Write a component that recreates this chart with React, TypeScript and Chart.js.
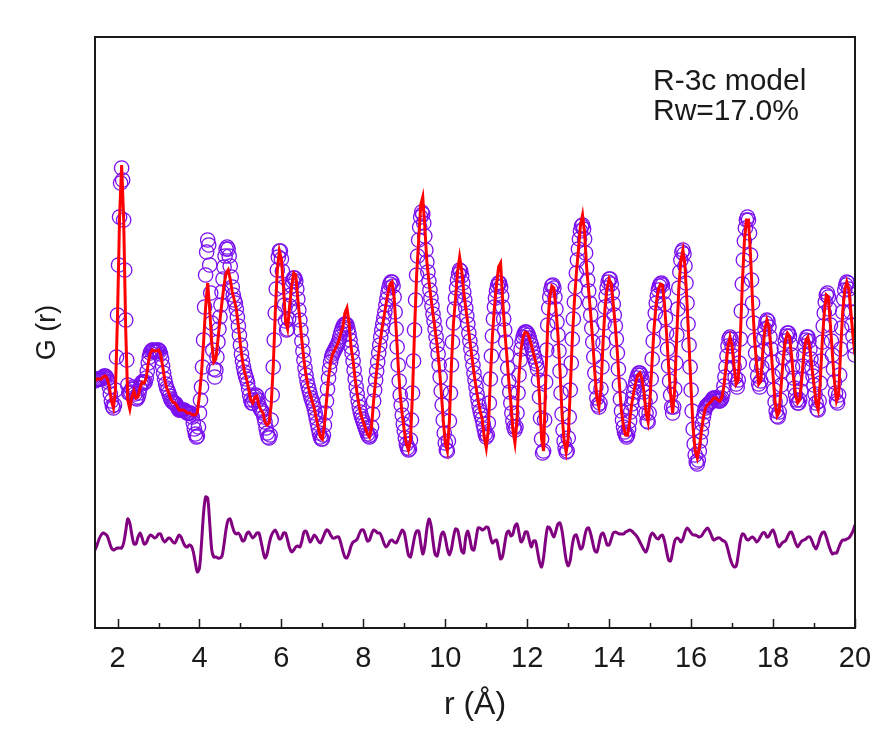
import React, { useEffect, useRef } from 'react';
import { Chart, registerables } from 'chart.js';

Chart.register(...registerables);

// r grid (Å)
const R_MIN = 1.45;
const R_MAX = 20;
const OBS_STEP = 0.025;
const FIT_STEP = 0.05;

// Observed G(r) (circles), r = 1.45 .. 20.00 step 0.025
const gObs = [
  0.4, 0.5, 0.6, 0.6, 0.6, 0.6, 0.6, 0.7, 0.8, 0.9, 0.9, 0.8, 0.6, 0.3, -0.2, -0.9, -1.6, -2.1, -2.3, -2.0,
  -0.5, 2.8, 7.0, 12.0, 16.8, 20.2, 21.7, 20.5, 16.5, 11.5, 6.5, 2.5, 0.0, -0.8, -0.8, -0.7, -0.4, -0.2, -0.4, -0.9,
  -1.3, -1.4, -1.2, -0.8, -0.3, 0.1, 0.3, 0.3, 0.2, 0.3, 0.7, 1.4, 2.2, 2.8, 3.2, 3.4, 3.5, 3.5, 3.4, 3.3,
  3.4, 3.5, 3.5, 3.4, 3.1, 2.6, 1.9, 1.2, 0.6, 0.1, -0.3, -0.5, -0.8, -1.1, -1.4, -1.6, -1.7, -1.8, -1.8, -1.9,
  -2.1, -2.3, -2.5, -2.5, -2.5, -2.5, -2.5, -2.5, -2.6, -2.7, -2.8, -2.8, -2.8, -2.8, -2.9, -3.2, -3.8, -4.4, -4.9, -5.2,
  -5.1, -4.2, -2.8, -1.5, -0.2, 1.8, 4.5, 7.8, 11.0, 13.3, 14.5, 14.0, 12.0, 9.2, 6.2, 3.5, 1.6, 0.8, 1.5, 2.8,
  4.3, 5.6, 6.8, 8.0, 9.3, 10.6, 11.8, 12.9, 13.6, 13.8, 13.6, 12.9, 11.9, 10.8, 9.8, 9.0, 8.5, 8.2, 7.6, 6.8,
  5.9, 5.0, 4.0, 3.1, 2.4, 1.8, 1.3, 0.9, 0.6, 0.2, -0.4, -1.0, -1.5, -1.8, -1.8, -1.5, -1.2, -1.0, -1.1, -1.5,
  -2.0, -2.3, -2.5, -2.6, -2.8, -3.2, -3.7, -4.3, -4.8, -5.2, -5.3, -5.0, -3.5, -1.0, 1.8, 4.5, 7.2, 9.6, 11.5, 12.8,
  13.4, 13.4, 12.6, 11.4, 9.8, 8.0, 6.4, 5.5, 5.6, 6.6, 7.9, 9.0, 9.9, 10.4, 10.7, 10.7, 10.4, 9.6, 8.6, 7.5,
  6.5, 5.5, 4.4, 3.4, 2.5, 1.7, 1.0, 0.4, -0.1, -0.5, -0.9, -1.3, -1.6, -1.9, -2.3, -2.8, -3.3, -3.8, -4.3, -4.8,
  -5.2, -5.4, -5.4, -5.0, -4.0, -2.8, -1.6, -0.4, 0.7, 1.6, 2.3, 2.8, 3.1, 3.3, 3.5, 3.7, 3.9, 4.1, 4.4, 4.8,
  5.2, 5.5, 5.8, 6.0, 6.1, 6.1, 6.0, 5.6, 5.1, 4.5, 3.8, 3.2, 2.4, 1.5, 0.6, -0.2, -0.9, -1.6, -2.2, -2.7,
  -3.1, -3.4, -3.7, -4.0, -4.3, -4.6, -4.9, -5.1, -5.2, -5.0, -4.2, -2.9, -1.6, -0.5, 0.5, 1.4, 2.3, 3.2, 4.0, 4.8,
  5.5, 6.1, 6.7, 7.3, 8.0, 8.6, 9.2, 9.7, 10.1, 10.3, 10.3, 9.9, 8.8, 7.3, 5.6, 3.8, 2.0, 0.4, -1.0, -2.0,
  -3.0, -3.9, -4.6, -5.3, -5.9, -6.3, -6.5, -6.4, -5.5, -3.5, -0.8, 2.4, 5.5, 8.5, 11.0, 12.9, 14.5, 15.8, 16.8, 17.3,
  17.1, 16.2, 14.9, 13.5, 12.3, 11.3, 10.4, 9.5, 8.7, 7.9, 7.1, 6.4, 5.6, 4.8, 4.0, 3.1, 2.0, 0.8, -0.6, -2.0,
  -3.5, -4.8, -5.8, -6.5, -6.6, -5.6, -3.6, -0.8, 2.0, 4.3, 6.2, 7.6, 8.7, 9.7, 10.5, 11.1, 11.5, 11.4, 10.9, 10.2,
  9.3, 8.5, 7.7, 6.9, 6.1, 5.2, 4.4, 3.6, 2.8, 2.0, 1.2, 0.5, -0.2, -0.9, -1.5, -2.1, -2.6, -3.0, -3.4, -3.9,
  -4.4, -4.9, -5.2, -5.0, -3.8, -1.8, 0.6, 2.9, 4.9, 6.6, 7.8, 8.7, 9.4, 9.9, 10.2, 10.2, 9.8, 8.9, 7.8, 6.6,
  5.5, 4.3, 3.0, 1.7, 0.4, -0.7, -1.8, -2.8, -3.6, -4.2, -4.5, -4.2, -2.8, -0.8, 1.0, 2.5, 3.6, 4.3, 4.8, 5.1,
  5.3, 5.3, 5.2, 5.0, 4.7, 4.3, 4.0, 3.6, 3.2, 2.8, 2.4, 2.1, 1.6, 0.5, -1.2, -3.3, -5.4, -6.8, -6.6, -3.5,
  0.3, 3.5, 6.0, 7.7, 8.8, 9.5, 9.9, 10.0, 9.7, 8.8, 7.6, 6.3, 5.0, 3.4, 1.4, -0.8, -2.9, -4.5, -5.6, -6.3,
  -6.7, -6.6, -5.3, -3.2, -0.5, 2.2, 4.6, 6.6, 8.3, 9.8, 11.2, 12.5, 13.6, 14.6, 15.4, 15.9, 16.0, 15.6, 14.6, 13.2,
  11.7, 10.5, 9.4, 8.2, 7.0, 5.7, 4.3, 2.8, 1.2, -0.2, -1.3, -2.0, -2.2, -1.8, -0.4, 1.8, 4.2, 6.2, 7.8, 8.9,
  9.7, 10.3, 10.6, 10.6, 10.1, 9.2, 8.1, 7.0, 5.9, 4.6, 3.2, 1.6, 0.0, -1.4, -2.6, -3.5, -4.2, -4.7, -5.0, -5.2,
  -5.0, -4.4, -3.6, -2.7, -1.9, -1.3, -0.7, -0.2, 0.3, 0.7, 1.0, 1.2, 1.2, 1.0, 0.6, 0.0, -0.7, -1.7, -2.8, -3.6,
  -3.7, -2.8, -1.2, 0.6, 2.6, 4.4, 5.9, 7.2, 8.2, 8.9, 9.5, 9.9, 10.1, 10.2, 10.0, 9.3, 8.1, 6.7, 5.2, 3.6,
  1.9, 0.4, -1.0, -2.2, -2.8, -2.2, -0.4, 2.2, 5.0, 7.6, 9.7, 11.3, 12.5, 13.3, 13.5, 13.1, 11.9, 10.2, 8.2, 6.1,
  4.0, 1.8, -0.5, -2.6, -4.4, -5.9, -7.0, -7.7, -7.9, -7.5, -6.6, -5.6, -4.7, -3.9, -3.2, -2.7, -2.3, -2.1, -2.0, -1.9,
  -1.8, -1.7, -1.6, -1.4, -1.3, -1.3, -1.3, -1.4, -1.5, -1.6, -1.6, -1.5, -1.3, -0.8, -0.1, 0.8, 1.8, 2.9, 3.9, 4.6,
  4.8, 4.6, 3.9, 2.9, 1.8, 0.8, 0.1, -0.2, 0.5, 2.2, 4.6, 7.4, 10.1, 12.5, 14.4, 15.7, 16.5, 16.8, 16.5, 15.2,
  13.0, 10.5, 8.2, 6.2, 4.5, 3.2, 2.0, 0.9, 0.1, -0.2, 0.4, 1.8, 3.4, 4.7, 5.6, 6.2, 6.5, 6.4, 5.8, 4.8,
  3.6, 2.3, 0.9, -0.5, -1.7, -2.6, -3.1, -3.2, -2.7, -1.5, 0.0, 1.4, 2.7, 3.7, 4.4, 4.9, 5.2, 5.2, 4.9, 4.1,
  3.0, 1.8, 0.7, -0.3, -1.0, -1.5, -1.8, -1.8, -1.5, -0.6, 0.6, 1.9, 3.0, 3.9, 4.5, 4.8, 4.8, 4.4, 3.6, 2.6,
  1.7, 0.9, 0.0, -0.9, -1.8, -2.4, -2.5, -1.6, 0.2, 2.4, 4.3, 5.9, 7.2, 8.3, 9.0, 9.2, 8.8, 7.6, 6.0, 4.4,
  3.0, 1.6, 0.3, -0.8, -1.6, -1.8, -1.0, 1.0, 3.6, 5.7, 7.3, 8.6, 9.5, 10.0, 10.3, 10.2, 9.6, 8.6, 7.3, 6.0,
  4.9, 3.9, 3.0,
];

// Calculated G(r) (red line), r = 1.45 .. 20.00 step 0.05
const gCalc = [
  0.4, 0.6, 0.6, 0.6, 0.8, 0.9, 0.6, -0.2, -1.6, -2.3, -0.5, 7.0, 16.8, 22.0, 16.5, 5.5, -1.5, -2.4, -1.2, -0.6,
  -1.3, -1.2, -0.3, 0.3, 0.2, 0.7, 2.2, 3.2, 3.5, 3.4, 3.4, 3.5, 3.1, 1.9, 0.6, -0.3, -0.8, -1.4, -1.7, -1.8,
  -2.1, -2.5, -2.5, -2.5, -2.6, -2.8, -2.8, -2.9, -3.0, -3.0, -2.7, -1.0, 1.2, 4.3, 7.8, 10.2, 7.5, 4.2, 2.3, 2.6,
  4.5, 6.5, 8.3, 10.0, 11.2, 11.5, 10.6, 9.3, 8.5, 7.6, 5.9, 4.0, 2.4, 1.3, 0.6, -0.4, -1.5, -1.8, -1.2, -1.1,
  -2.0, -2.5, -2.8, -3.7, -4.0, -3.8, -2.0, 1.8, 7.2, 11.5, 13.4, 12.6, 9.8, 6.4, 5.6, 7.9, 9.9, 11.2, 11.0, 8.6,
  6.5, 4.4, 2.5, 1.0, -0.1, -0.9, -1.6, -2.3, -3.3, -4.3, -5.2, -5.4, -4.0, -1.6, 0.7, 2.3, 3.1, 3.5, 3.9, 4.4,
  5.2, 5.8, 7.2, 7.7, 6.2, 3.8, 2.4, 0.6, -0.9, -2.2, -3.1, -3.7, -4.3, -4.9, -5.2, -4.2, -1.6, 0.5, 2.3, 4.0,
  5.5, 6.7, 8.0, 9.2, 10.1, 10.3, 8.8, 5.6, 2.0, -1.0, -3.0, -4.6, -5.9, -6.5, -5.5, -0.8, 5.5, 11.0, 14.5, 18.0,
  18.8, 15.8, 12.3, 10.4, 8.7, 7.1, 5.6, 4.0, 2.0, -0.6, -3.5, -5.8, -6.6, -3.6, 2.0, 6.2, 8.7, 11.3, 12.8, 11.5,
  9.3, 7.7, 6.1, 4.4, 2.8, 1.2, -0.2, -1.5, -2.6, -3.4, -5.2, -6.3, -4.5, 0.6, 4.9, 7.8, 10.0, 11.8, 12.2, 8.5,
  5.5, 3.0, 0.4, -1.8, -4.5, -5.8, -3.5, 1.0, 3.6, 4.8, 5.3, 5.2, 4.7, 4.0, 3.2, 2.4, 1.6, -1.2, -5.4, -6.6,
  0.3, 6.0, 8.8, 9.9, 9.7, 7.6, 5.0, 1.4, -2.9, -5.6, -6.7, -5.3, -0.5, 4.6, 8.3, 11.2, 13.6, 16.0, 17.0, 15.2,
  11.7, 9.4, 7.0, 4.3, 1.2, -1.3, -2.2, -0.4, 4.2, 7.8, 9.7, 10.6, 10.1, 8.1, 5.9, 3.2, 0.0, -2.6, -4.2, -5.0,
  -5.0, -3.6, -1.9, -0.7, 0.3, 1.0, 1.2, 0.6, -0.7, -2.8, -3.7, -1.2, 2.6, 5.9, 8.2, 9.5, 10.1, 10.0, 8.1, 5.2,
  1.9, -1.0, -2.8, -0.4, 5.0, 9.7, 12.5, 13.5, 11.9, 8.2, 4.0, -0.5, -4.4, -6.6, -7.3, -6.3, -4.7, -3.2, -2.3, -2.0,
  -1.8, -1.6, -1.3, -1.3, -1.5, -1.6, -1.3, -0.1, 1.8, 3.9, 4.8, 3.9, 1.8, 0.1, 0.5, 4.6, 10.1, 14.4, 16.5, 16.5,
  13.0, 8.2, 4.5, 2.0, 0.1, 0.4, 3.4, 5.6, 6.5, 5.8, 3.6, 0.9, -1.7, -3.1, -2.7, 0.0, 2.7, 4.4, 5.2, 4.9,
  3.0, 0.7, -1.0, -1.8, -1.5, 0.6, 3.0, 4.5, 4.8, 3.6, 1.7, 0.0, -1.8, -2.5, 0.2, 4.3, 7.2, 9.0, 8.8, 6.0,
  3.0, 0.3, -1.6, -1.0, 3.6, 7.3, 9.5, 10.3, 9.6, 7.3, 4.9, 3.0,
];

// Difference curve (offset), r = 1.45 .. 20.00 step 0.05
const gDiff = [
  -16.5, -16.0, -15.4, -15.0, -14.8, -14.9, -15.1, -15.7, -16.3, -16.5, -16.4, -16.3, -16.3, -16.3, -15.8, -14.6, -13.4, -13.8, -15.0, -15.9,
  -15.9, -15.2, -14.8, -15.3, -15.9, -15.8, -15.3, -15.0, -15.1, -15.3, -15.2, -14.9, -14.9, -15.4, -15.7, -15.5, -15.3, -15.4, -15.7, -15.8,
  -15.4, -15.0, -15.2, -15.7, -16.1, -16.2, -16.0, -16.1, -16.7, -17.8, -18.7, -18.3, -15.8, -12.8, -11.2, -11.3, -13.8, -16.5, -17.2, -17.2,
  -17.3, -17.3, -17.1, -15.9, -14.4, -13.5, -13.4, -14.1, -14.7, -14.9, -14.8, -15.1, -15.6, -15.5, -14.9, -14.7, -15.0, -15.3, -15.1, -14.8,
  -14.8, -15.6, -16.6, -17.3, -16.9, -15.9, -15.1, -14.7, -14.5, -14.9, -15.4, -15.3, -14.8, -14.8, -15.5, -16.3, -16.7, -16.5, -16.2, -16.1,
  -16.2, -15.6, -14.7, -14.6, -15.1, -15.7, -15.4, -15.0, -15.2, -15.6, -15.8, -15.4, -14.9, -14.5, -14.6, -15.0, -15.3, -15.3, -15.2, -15.2,
  -15.8, -16.6, -17.2, -17.3, -16.8, -16.1, -15.7, -15.6, -15.4, -14.9, -14.5, -14.5, -15.0, -15.6, -15.5, -14.9, -14.5, -14.6, -14.8, -14.8,
  -15.2, -15.8, -16.2, -16.0, -15.6, -15.5, -15.7, -15.8, -15.4, -14.9, -14.5, -14.8, -15.9, -17.0, -17.2, -16.3, -15.2, -14.6, -14.6, -15.8,
  -16.9, -16.1, -14.4, -13.4, -14.0, -15.6, -16.9, -17.1, -16.2, -15.0, -14.7, -15.3, -16.4, -17.0, -16.4, -15.2, -14.4, -14.5, -15.5, -16.6,
  -16.8, -15.2, -14.6, -15.4, -16.4, -16.5, -15.4, -14.3, -14.3, -14.5, -14.4, -14.2, -14.3, -15.2, -15.8, -15.6, -15.5, -16.4, -17.4, -17.1,
  -15.9, -14.8, -14.6, -15.1, -14.9, -14.1, -13.9, -14.8, -15.7, -15.4, -14.7, -14.7, -15.5, -16.2, -15.6, -15.6, -16.6, -17.7, -18.2, -17.2,
  -15.4, -14.2, -14.3, -14.8, -15.2, -14.6, -13.9, -13.8, -14.6, -16.1, -17.5, -18.1, -17.5, -16.0, -15.1, -15.0, -15.7, -16.4, -16.2, -15.2,
  -14.4, -14.3, -14.9, -15.8, -16.6, -16.7, -15.9, -15.0, -14.8, -15.3, -16.0, -16.0, -15.4, -14.8, -14.7, -14.8, -14.9, -14.9, -14.9, -14.7,
  -14.6, -14.5, -14.6, -14.8, -15.0, -15.3, -15.7, -16.1, -16.5, -16.7, -16.1, -15.2, -14.8, -15.0, -15.3, -15.4, -15.1, -15.0, -15.6, -16.6,
  -17.5, -17.6, -16.6, -15.6, -15.3, -15.4, -15.7, -15.4, -14.7, -14.3, -14.5, -14.8, -15.0, -15.0, -15.1, -15.2, -15.1, -14.8, -14.5, -14.3,
  -14.6, -15.1, -15.5, -15.4, -15.3, -15.3, -15.5, -15.6, -15.8, -16.5, -17.3, -17.9, -18.2, -18.1, -17.0, -15.6, -14.9, -15.0, -15.4, -15.5,
  -15.3, -15.2, -15.4, -15.7, -15.5, -15.1, -14.8, -14.8, -15.2, -15.1, -14.7, -14.5, -15.0, -15.8, -16.2, -15.9, -15.7, -15.6, -15.2, -14.8,
  -14.7, -15.2, -15.8, -16.2, -15.9, -15.6, -15.5, -15.4, -15.2, -15.2, -15.6, -16.1, -16.4, -15.9, -15.2, -14.8, -14.7, -15.2, -15.9, -16.5,
  -16.9, -16.8, -16.8, -16.3, -15.8, -15.5, -15.5, -15.4, -15.3, -15.0, -14.6, -14.0,
];

const G_MIN = -24.3;
const G_MAX = 34.8;
const xMajor = [2, 4, 6, 8, 10, 12, 14, 16, 18, 20];
const xMinor = [3, 5, 7, 9, 11, 13, 15, 17, 19];
const noteLines = ['R-3c model', 'Rw=17.0%'];

const FONT = '"Liberation Sans", Arial, Helvetica, sans-serif';
const INK = '#1a1a1a';

function toPoints(values: number[], step: number) {
  return values.map((g, i) => ({ x: Math.round((R_MIN + i * step) * 1000) / 1000, y: g }));
}

export default function App() {
  const ref = useRef<HTMLCanvasElement | null>(null);

  useEffect(() => {
    document.body.style.margin = '0';
    const canvas = ref.current;
    if (!canvas) return;

    const framePlugin = {
      id: 'frameTicksNote',
      afterDraw(chart: any) {
        const { ctx, chartArea: a, scales } = chart;
        const xs = scales.x;
        ctx.save();
        ctx.strokeStyle = INK;
        ctx.lineWidth = 2;
        ctx.strokeRect(a.left, a.top, a.right - a.left, a.bottom - a.top);
        ctx.lineWidth = 1.5;
        ctx.beginPath();
        xMajor.forEach((v) => {
          const px = Math.round(xs.getPixelForValue(v)) + 0.5;
          ctx.moveTo(px, a.bottom);
          ctx.lineTo(px, a.bottom - 9);
        });
        xMinor.forEach((v) => {
          const px = Math.round(xs.getPixelForValue(v)) + 0.5;
          ctx.moveTo(px, a.bottom);
          ctx.lineTo(px, a.bottom - 5);
        });
        ctx.stroke();
        ctx.fillStyle = INK;
        ctx.font = '30px ' + FONT;
        ctx.textAlign = 'left';
        ctx.textBaseline = 'alphabetic';
        noteLines.forEach((t, i) => ctx.fillText(t, 653, 90 + i * 30));
        ctx.restore();
      },
    };

    const chart = new Chart(canvas, {
      type: 'line',
      data: {
        datasets: [
          {
            label: 'G(r) obs',
            data: toPoints(gObs, OBS_STEP),
            showLine: false,
            pointStyle: 'circle',
            pointRadius: 7.2,
            pointBorderWidth: 1.3,
            pointBorderColor: '#7a10f0',
            pointBackgroundColor: 'rgba(0,0,0,0)',
            order: 3,
            clip: 0,
          },
          {
            label: 'G(r) calc',
            data: toPoints(gCalc, FIT_STEP),
            borderColor: '#ff0000',
            borderWidth: 3,
            pointRadius: 0,
            tension: 0,
            order: 1,
            clip: 0,
          },
          {
            label: 'difference',
            data: toPoints(gDiff, FIT_STEP),
            borderColor: '#800080',
            borderWidth: 3,
            pointRadius: 0,
            tension: 0.3,
            order: 2,
            clip: 0,
          },
        ],
      } as any,
      options: {
        responsive: false,
        animation: false,
        devicePixelRatio: 1,
        events: [],
        layout: { padding: { top: 37, right: 37, left: 0, bottom: 0 } },
        plugins: { legend: { display: false }, tooltip: { enabled: false } },
        scales: {
          x: {
            type: 'linear',
            min: R_MIN,
            max: R_MAX,
            afterBuildTicks: (s: any) => {
              s.ticks = xMajor.map((v) => ({ value: v }));
            },
            afterFit: (s: any) => {
              s.height = 116;
            },
            grid: { display: false, drawTicks: false },
            border: { display: false },
            ticks: {
              padding: 14,
              color: INK,
              maxRotation: 0,
              autoSkip: false,
              font: { family: FONT, size: 29 },
              callback: (v: any) => String(v),
            },
            title: {
              display: true,
              text: 'r (Å)',
              color: INK,
              font: { family: FONT, size: 32 },
              padding: { top: 0, bottom: 20 },
            },
          },
          y: {
            type: 'linear',
            min: G_MIN,
            max: G_MAX,
            afterFit: (s: any) => {
              s.width = 95;
            },
            grid: { display: false, drawTicks: false },
            border: { display: false },
            ticks: { display: false },
            title: {
              display: true,
              text: 'G (r)',
              color: INK,
              font: { family: FONT, size: 27 },
              padding: { top: 31, bottom: 0 },
            },
          },
        },
      } as any,
      plugins: [framePlugin],
    });

    return () => chart.destroy();
  }, []);

  return (
    <canvas
      ref={ref}
      width={892}
      height={744}
      style={{ display: 'block', width: 892, height: 744 }}
    />
  );
}
